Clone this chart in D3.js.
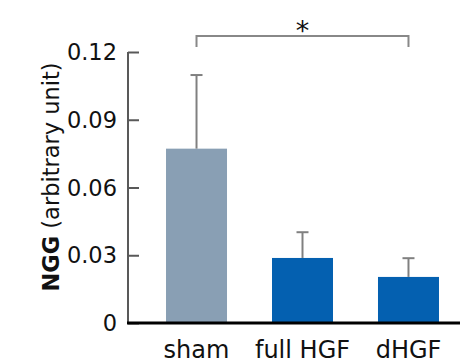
<!DOCTYPE html>
<html><head><meta charset="utf-8">
<script src="https://cdn.jsdelivr.net/npm/d3@7"></script>
<style>body{margin:0;background:#fff}svg{display:block}</style>
</head><body>
<svg id="c" width="460" height="363"></svg>
<script>
const categories = ["sham", "full HGF", "dHGF"];
const means = [0.0772, 0.0288, 0.0204];
const errors = [0.0326, 0.0114, 0.0083];
const barColors = ["#899fb4", "#0460b0", "#0460b0"];
const yTicks = [0, 0.03, 0.06, 0.09, 0.12];
const yTickLabels = ["0", "0.03", "0.06", "0.09", "0.12"];
const sigPair = ["sham", "dHGF"];
const sigLabel = "*";

const svg = d3.select("#c");
const font = "DejaVu Sans, Verdana, sans-serif";
const x0 = 128, yTop = 52, yBot = 323;

const x = d3.scaleBand().domain(categories).range([148, 457]).paddingInner(0.4245).paddingOuter(0.17);
const y = d3.scaleLinear().domain([0, 0.12]).range([yBot, yTop]);

// y axis
const yAxis = d3.axisRight(y).tickValues(yTicks).tickSize(11).tickFormat("");
const gy = svg.append("g").attr("transform", `translate(${x0},0)`).call(yAxis);
gy.selectAll("path,line").attr("stroke", "#595959").attr("stroke-width", 2);
gy.select(".domain").attr("d", `M0,${yTop}V${yBot}`);
svg.append("g").selectAll("text").data(yTicks).join("text")
  .attr("x", x0 - 11).attr("y", d => y(d)).attr("dy", "0.36em")
  .attr("text-anchor", "end").attr("font-family", font).attr("font-size", 22.5).attr("fill", "#111")
  .text((d, i) => yTickLabels[i]);

// bars
svg.append("g").selectAll("rect").data(categories).join("rect")
  .attr("x", d => x(d)).attr("width", x.bandwidth())
  .attr("y", (d, i) => y(means[i])).attr("height", (d, i) => y(0) - y(means[i]))
  .attr("fill", (d, i) => barColors[i]);

// error bars
const eg = svg.append("g").attr("stroke", "#808080").attr("stroke-width", 2);
categories.forEach((c, i) => {
  const cx = x(c) + x.bandwidth() / 2;
  eg.append("line").attr("x1", cx).attr("x2", cx).attr("y1", y(means[i])).attr("y2", y(means[i] + errors[i]));
  eg.append("line").attr("x1", cx - 6).attr("x2", cx + 6).attr("y1", y(means[i] + errors[i])).attr("y2", y(means[i] + errors[i]));
});

// x baseline
svg.append("line").attr("x1", x0 - 1).attr("x2", 460).attr("y1", yBot).attr("y2", yBot)
  .attr("stroke", "#000").attr("stroke-width", 3);

// x labels
svg.append("g").selectAll("text").data(categories).join("text")
  .attr("x", d => x(d) + x.bandwidth() / 2).attr("y", 358)
  .attr("text-anchor", "middle").attr("font-family", font).attr("font-size", 24).attr("fill", "#111")
  .text(d => d);

// significance bracket
const bx1 = x(sigPair[0]) + x.bandwidth() / 2, bx2 = x(sigPair[1]) + x.bandwidth() / 2;
svg.append("path").attr("d", `M${bx1},47V36H${bx2}V47`).attr("fill", "none")
  .attr("stroke", "#888").attr("stroke-width", 2);
svg.append("text").attr("x", (bx1 + bx2) / 2).attr("y", 40).attr("text-anchor", "middle")
  .attr("font-family", font).attr("font-size", 27).attr("fill", "#111").text(sigLabel);

// y title
const t = svg.append("text").attr("transform", `translate(59,177) rotate(-90)`)
  .attr("text-anchor", "middle").attr("font-family", font).attr("font-size", 22.5).attr("fill", "#111");
t.append("tspan").attr("font-weight", "bold").text("NGG");
t.append("tspan").text(" (arbitrary unit)");
</script>
</body></html>
